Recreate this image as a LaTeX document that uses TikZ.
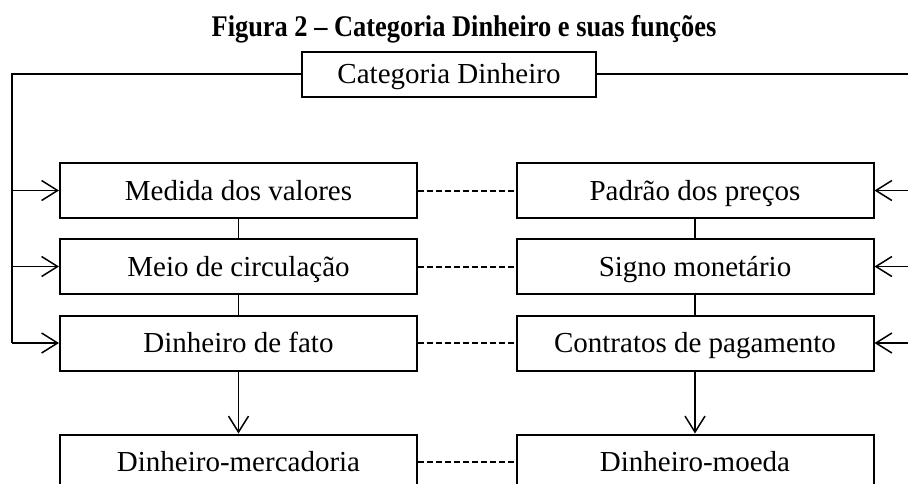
\documentclass[tikz,border=0pt]{standalone}
\usepackage{fontspec}
\setmainfont{Liberation Serif}
\usetikzlibrary{arrows.meta}
\begin{document}
\begin{tikzpicture}[x=1pt,y=-1pt,
  box/.style={draw, line width=2pt, minimum width=357pt, minimum height=55pt, inner sep=0pt, text height=19pt, text depth=0pt, font=\fontsize{29}{34}\selectfont},
  conn/.style={line width=2pt},
  vlink/.style={line width=1.7pt},
  arr/.style={line width=1.5pt, -{Straight Barb[length=16pt,width=20pt,line width=1.5pt]}},
  dashlink/.style={line width=2pt, dash pattern=on 6pt off 3pt}
]
\useasboundingbox (0,0) rectangle (908,483);
\node[font=\bfseries\fontsize{30}{34}\selectfont, anchor=base] (title) at (464,36) {\scalebox{0.88}[1]{Figura 2 – Categoria Dinheiro e suas funções}};

\node[box, minimum width=294pt, minimum height=45pt] (cat) at (449,74) {Categoria Dinheiro};

\node[box] (l1) at (238.5,190.5) {Medida dos valores};
\node[box] (l2) at (238.5,266.5) {Meio de circulação};
\node[box] (l3) at (238.5,343) {Dinheiro de fato};
\node[box] (l4) at (238.5,462) {Dinheiro-mercadoria};

\node[box] (r1) at (695,190.5) {Padrão dos preços};
\node[box] (r2) at (695,266.5) {Signo monetário};
\node[box] (r3) at (695,343) {Contratos de pagamento};
\node[box] (r4) at (695,462) {Dinheiro-moeda};

\coordinate (cornerL) at (12,74);
\coordinate (cornerR) at (914,74);

\draw[conn] (cat.west) -- (cornerL) -- (cornerL |- l3.west);
\draw[conn] (cat.east) -- (cornerR) -- (cornerR |- r3.east);

\foreach \n in {l1,l2,l3} \draw[arr] (cornerL |- \n.west) -- (\n.west);
\foreach \n in {r1,r2,r3} \draw[arr] (cornerR |- \n.east) -- (\n.east);

\draw[vlink] (l1) -- (l2);
\draw[vlink] (l2) -- (l3);
\draw[vlink] (r1) -- (r2);
\draw[vlink] (r2) -- (r3);

\draw[arr] (l3) -- (l4);
\draw[arr] (r3) -- (r4);

\draw[dashlink] (l1) -- (r1);
\draw[dashlink] (l2) -- (r2);
\draw[dashlink] (l3) -- (r3);
\draw[dashlink] (l4) -- (r4);
\end{tikzpicture}
\end{document}
